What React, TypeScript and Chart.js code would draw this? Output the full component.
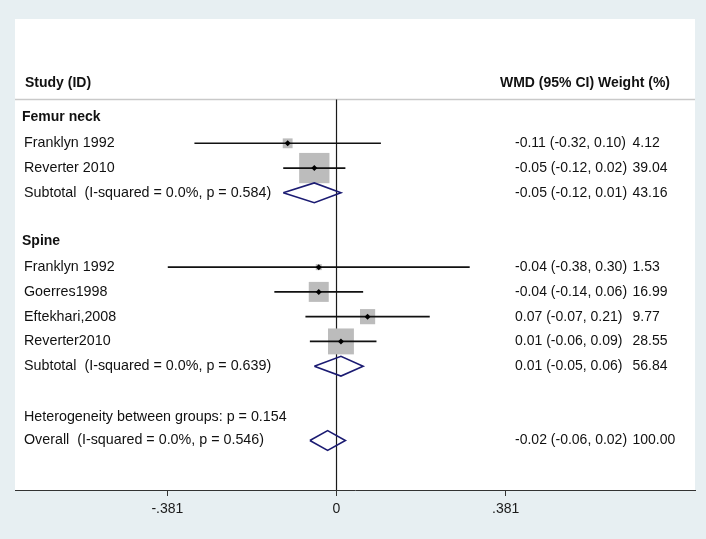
import React, { useEffect, useRef } from "react";
import { Chart, registerables } from "chart.js";

Chart.register(...registerables);

// ---- data ----
const groupNames = ["Femur neck", "Spine"];
const groupRows = [0, 5];

const studyNames = ["Franklyn 1992", "Reverter 2010", "Franklyn 1992", "Goerres1998", "Eftekhari,2008", "Reverter2010"];
const studyRows = [1, 2, 6, 7, 8, 9];
const studyEst = [-0.11, -0.05, -0.04, -0.04, 0.07, 0.01];
const studyLow = [-0.32, -0.12, -0.38, -0.14, -0.07, -0.06];
const studyHigh = [0.10, 0.02, 0.30, 0.06, 0.21, 0.09];
const studyWeight = [4.12, 39.04, 1.53, 16.99, 9.77, 28.55];

const pooledNames = [
  "Subtotal  (I-squared = 0.0%, p = 0.584)",
  "Subtotal  (I-squared = 0.0%, p = 0.639)",
  "Overall  (I-squared = 0.0%, p = 0.546)",
];
const pooledRows = [3, 10, 13];
const pooledEst = [-0.05, 0.01, -0.02];
const pooledLow = [-0.12, -0.05, -0.06];
const pooledHigh = [0.01, 0.06, 0.02];
const pooledWeight = [43.16, 56.84, 100.0];

const hetText = "Heterogeneity between groups: p = 0.154";
const hetRow = 12;

const headerLeft = "Study (ID)";
const headerRight = "WMD (95% CI) Weight (%)";

const tickValues = [-0.381, 0, 0.381];
const tickLabels = ["-.381", "0", ".381"];

// ---- layout constants ----
const X_MIN = -0.7241;
const X_MAX = 0.8074;
const Y_MIN = -4.02;
const Y_MAX = 15.0;
const HEADER_ROW = -1.44;
const HEADER_LINE_ROW = -0.77;
const DIAMOND_HALF = 0.4;
const SQUARE_K = 4.85;

const FONT = "'Liberation Sans', Arial, Helvetica, sans-serif";
const BG = "#e7eff2";

const fmt = (v: number) => v.toFixed(2);

export default function App() {
  const ref = useRef<HTMLCanvasElement | null>(null);

  useEffect(() => {
    if (!ref.current) return;

    const datasets: any[] = [];

    // zero line
    datasets.push({
      data: [
        { x: 0, y: HEADER_LINE_ROW },
        { x: 0, y: Y_MAX },
      ],
      showLine: true,
      borderColor: "#1a1a1a",
      borderWidth: 1.2,
      pointRadius: 0,
      order: 5,
    });
    // header separator
    datasets.push({
      data: [
        { x: X_MIN, y: HEADER_LINE_ROW },
        { x: X_MAX, y: HEADER_LINE_ROW },
      ],
      showLine: true,
      borderColor: "#c9c9c9",
      borderWidth: 1.5,
      pointRadius: 0,
      order: 5,
    });
    // weight squares
    datasets.push({
      data: studyEst.map((e, i) => ({ x: e, y: studyRows[i] })),
      pointStyle: "rect",
      pointRadius: studyWeight.map((w) => (SQUARE_K * Math.sqrt(w)) / Math.SQRT2),
      backgroundColor: "#bcbcbc",
      borderWidth: 0,
      order: 4,
    });
    // CI lines
    studyEst.forEach((_, i) => {
      datasets.push({
        data: [
          { x: studyLow[i], y: studyRows[i] },
          { x: studyHigh[i], y: studyRows[i] },
        ],
        showLine: true,
        borderColor: "#111",
        borderWidth: 1.6,
        pointRadius: 0,
        order: 3,
      });
    });
    // center dots
    datasets.push({
      data: studyEst.map((e, i) => ({ x: e, y: studyRows[i] })),
      pointStyle: "rectRot",
      pointRadius: 3,
      backgroundColor: "#000",
      borderWidth: 0,
      order: 1,
    });
    // pooled diamonds
    pooledEst.forEach((e, i) => {
      const r = pooledRows[i];
      datasets.push({
        data: [
          { x: pooledLow[i], y: r },
          { x: e, y: r - DIAMOND_HALF },
          { x: pooledHigh[i], y: r },
          { x: e, y: r + DIAMOND_HALF },
          { x: pooledLow[i], y: r },
        ],
        showLine: true,
        borderColor: "#1b1b72",
        borderWidth: 1.6,
        pointRadius: 0,
        fill: false,
        tension: 0,
        order: 2,
      });
    });

    const bgPlugin = {
      id: "bgPlugin",
      beforeDraw(chart: any) {
        const { ctx, chartArea } = chart;
        ctx.save();
        ctx.fillStyle = BG;
        ctx.fillRect(0, 0, chart.width, chart.height);
        ctx.fillStyle = "#ffffff";
        ctx.fillRect(chartArea.left, chartArea.top, chartArea.right - chartArea.left, chartArea.bottom - chartArea.top);
        ctx.restore();
      },
    };

    const textPlugin = {
      id: "textPlugin",
      afterDatasetsDraw(chart: any) {
        const { ctx } = chart;
        const y = chart.scales.y;
        const x = chart.scales.x;
        const leftX = x.left + 9;
        const dataX = x.getPixelForValue(0) + 178.5;
        const weightX = x.getPixelForValue(0) + 296;
        const headerRightX = x.getPixelForValue(0) + 333.5;
        ctx.save();
        ctx.fillStyle = "#111";
        ctx.textBaseline = "middle";

        ctx.font = `bold 14px ${FONT}`;
        ctx.textAlign = "left";
        ctx.fillText(headerLeft, leftX + 1, y.getPixelForValue(HEADER_ROW));
        ctx.textAlign = "right";
        ctx.fillText(headerRight, headerRightX, y.getPixelForValue(HEADER_ROW));
        ctx.textAlign = "left";
        groupNames.forEach((g, i) => {
          ctx.fillText(g, leftX - 2, y.getPixelForValue(groupRows[i]) - 1);
        });

        ctx.font = `14px ${FONT}`;
        studyNames.forEach((n, i) => {
          const py = y.getPixelForValue(studyRows[i]);
          ctx.fillText(`${fmt(studyEst[i])} (${fmt(studyLow[i])}, ${fmt(studyHigh[i])})`, dataX, py);
          ctx.fillText(fmt(studyWeight[i]), weightX, py);
        });
        pooledNames.forEach((n, i) => {
          const py = y.getPixelForValue(pooledRows[i]);
          ctx.fillText(`${fmt(pooledEst[i])} (${fmt(pooledLow[i])}, ${fmt(pooledHigh[i])})`, dataX, py);
          ctx.fillText(fmt(pooledWeight[i]), weightX, py);
        });

        ctx.font = `14.3px ${FONT}`;
        studyNames.forEach((n, i) => {
          ctx.fillText(n, leftX, y.getPixelForValue(studyRows[i]));
        });
        pooledNames.forEach((n, i) => {
          ctx.fillText(n, leftX, y.getPixelForValue(pooledRows[i]));
        });
        ctx.fillText(hetText, leftX, y.getPixelForValue(hetRow) + 1);
        ctx.restore();
      },
    };

    const chart = new Chart(ref.current, {
      type: "scatter",
      data: { datasets },
      options: {
        responsive: false,
        animation: false,
        devicePixelRatio: 1,
        layout: { autoPadding: false, padding: { left: 15, right: 11, top: 19, bottom: 0 } },
        plugins: {
          legend: { display: false },
          tooltip: { enabled: false },
        },
        elements: { line: { tension: 0 } },
        scales: {
          x: {
            type: "linear",
            min: X_MIN,
            max: X_MAX,
            afterBuildTicks: (scale: any) => {
              scale.ticks = tickValues.map((v) => ({ value: v }));
            },
            afterFit: (scale: any) => {
              scale.height = 49;
            },
            ticks: {
              autoSkip: false,
              maxRotation: 0,
              padding: 5,
              color: "#1a1a1a",
              font: { family: FONT, size: 14 },
              callback: (value: any) => {
                const idx = tickValues.findIndex((t) => Math.abs(t - Number(value)) < 1e-9);
                return idx >= 0 ? tickLabels[idx] : "";
              },
            },
            grid: {
              drawOnChartArea: false,
              drawTicks: true,
              tickLength: 6,
              color: "#333",
              lineWidth: 1,
            },
            border: { display: true, color: "#333", width: 1 },
          },
          y: {
            type: "linear",
            display: false,
            min: Y_MIN,
            max: Y_MAX,
            reverse: true,
          },
        },
      },
      plugins: [bgPlugin, textPlugin],
    });

    return () => chart.destroy();
  }, []);

  return (
    <div style={{ position: "fixed", left: 0, top: 0, width: 706, height: 539, background: BG }}>
      <canvas ref={ref} width={706} height={539} style={{ display: "block", width: 706, height: 539 }} />
    </div>
  );
}
